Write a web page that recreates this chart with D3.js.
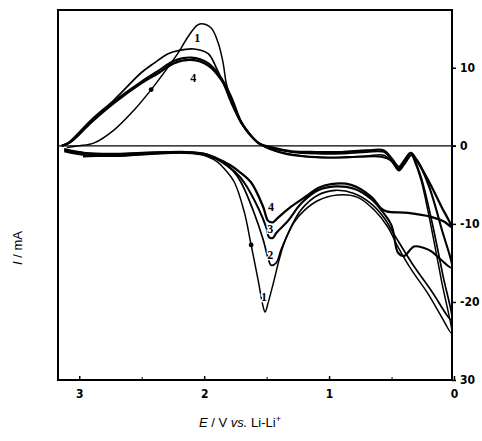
<!DOCTYPE html>
<html>
<head>
<meta charset="utf-8">
<script src="https://cdn.jsdelivr.net/npm/d3@7"></script>
<style>
  body { margin: 0; background: #fff; }
  svg { display: block; }
  .tick text { font-family: "Liberation Sans Narrow", "DejaVu Sans Condensed", "Liberation Sans", sans-serif; font-weight: bold; font-size: 12px; fill: #000; }
  .label { font-family: "Liberation Sans", Arial, sans-serif; font-size: 13px; fill: #000; }
  .curve-label { font-family: "Liberation Serif", "DejaVu Serif", serif; font-weight: bold; font-size: 12px; fill: #000; }
</style>
</head>
<body>
<div id="chart"></div>
<script>
var width = 482;
var height = 441;

// potential E (V vs Li/Li+) and current I (mA), one closed loop per cycle
var cycle1 = [
  [2.97,-1.4],[2.80,-1.3],[2.60,-1.2],[2.40,-1.0],[2.20,-0.9],[2.06,-1.0],[1.97,-1.4],[1.90,-2.0],[1.84,-2.9],
  [1.76,-4.6],[1.68,-8.4],[1.624,-12.7],[1.568,-17.2],[1.528,-20.6],[1.512,-21.3],[1.488,-20.1],[1.44,-17.2],
  [1.40,-14.6],[1.36,-12.5],[1.28,-9.8],[1.20,-8.3],[1.088,-7.0],[0.93,-6.3],[0.77,-6.6],[0.64,-8.2],[0.53,-10.4],
  [0.45,-12.9],[0.34,-15.9],[0.21,-18.9],[0.10,-21.9],[0.02,-24.0],
  [0.10,-17.3],[0.20,-9.0],[0.264,-4.4],[0.32,-1.8],[0.345,-1.0],[0.40,-2.2],[0.44,-3.2],[0.50,-2.0],[0.56,-1.2],
  [0.70,-1.3],[0.90,-1.5],[1.10,-1.5],[1.30,-1.1],[1.44,-0.6],[1.544,0.1],[1.60,0.8],[1.704,2.95],[1.784,5.9],
  [1.824,8.1],[1.848,10.6],[1.888,13.2],[1.944,15.1],[2.024,15.64],[2.06,15.4],[2.128,14.0],[2.208,11.9],
  [2.288,10.1],[2.424,7.2],[2.56,4.6],[2.72,2.05],[2.88,0.38],[3.0,0.0],[3.10,-0.2]
];
var cycle2 = [
  [3.12,-0.4],[2.95,-0.9],[2.70,-1.0],[2.40,-0.8],[2.15,-0.8],[2.00,-1.0],[1.92,-1.5],[1.84,-2.2],[1.77,-3.2],
  [1.704,-4.7],[1.60,-8.6],[1.528,-12.0],[1.488,-14.4],[1.464,-15.3],[1.424,-15.0],[1.384,-13.3],[1.328,-11.2],
  [1.224,-8.2],[1.088,-6.3],[0.95,-5.7],[0.80,-6.1],[0.664,-7.4],[0.56,-9.2],[0.47,-11.6],[0.33,-15.2],
  [0.18,-18.6],[0.02,-22.3],
  [0.09,-16.5],[0.18,-9.5],[0.26,-4.2],[0.32,-1.6],[0.35,-0.9],[0.40,-2.0],[0.44,-2.9],[0.50,-1.8],[0.56,-0.8],
  [0.70,-0.8],[0.90,-1.0],[1.10,-1.0],[1.30,-0.8],[1.46,-0.3],[1.56,0.3],[1.62,1.2],[1.704,2.95],[1.784,5.5],
  [1.848,8.1],[1.90,9.9],[1.968,11.8],[2.08,12.4],[2.208,12.2],[2.288,11.8],[2.40,10.6],[2.504,9.36],
  [2.72,5.9],[2.904,3.33],[3.088,0.38],[3.14,0.0]
];
var cycle3 = [
  [3.12,-0.7],[2.95,-1.2],[2.70,-1.3],[2.40,-1.0],[2.15,-0.9],[1.98,-1.2],[1.90,-1.7],[1.82,-2.5],[1.75,-3.4],
  [1.68,-4.7],[1.56,-8.2],[1.504,-10.4],[1.48,-11.7],[1.45,-11.8],[1.424,-11.2],[1.328,-9.6],[1.224,-7.4],
  [1.088,-5.7],[0.95,-5.2],[0.80,-5.5],[0.664,-6.8],[0.584,-8.2],[0.50,-10.2],[0.448,-13.7],[0.40,-14.1],
  [0.32,-12.9],[0.24,-13.1],[0.184,-13.5],[0.104,-14.6],[0.02,-15.6],
  [0.10,-10.6],[0.20,-5.2],[0.29,-2.0],[0.34,-1.2],[0.40,-2.4],[0.44,-3.1],[0.50,-1.9],[0.58,-1.4],[0.75,-1.4],
  [0.95,-1.5],[1.15,-1.4],[1.35,-1.0],[1.47,-0.4],[1.56,0.3],[1.62,1.2],[1.704,3.1],[1.784,6.3],[1.864,8.7],
  [1.968,10.6],[2.104,11.3],[2.24,10.9],[2.368,9.6],[2.504,8.2],[2.72,5.7],[2.904,3.1],[3.07,0.5],[3.14,0.0]
];
var cycle4 = [
  [3.12,-0.5],[2.95,-1.0],[2.70,-1.1],[2.40,-0.9],[2.15,-0.8],[1.98,-1.1],[1.90,-1.6],[1.80,-2.4],[1.72,-3.3],
  [1.624,-4.7],[1.528,-7.8],[1.488,-9.6],[1.45,-9.8],[1.408,-9.2],[1.304,-7.8],[1.168,-6.3],[1.088,-5.4],
  [0.984,-4.9],[0.824,-5.0],[0.664,-6.5],[0.584,-8.0],[0.54,-8.4],[0.368,-8.6],[0.184,-9.1],[0.08,-9.7],
  [0.02,-10.4],
  [0.10,-7.8],[0.20,-4.6],[0.30,-1.8],[0.345,-0.9],[0.40,-1.9],[0.44,-2.7],[0.50,-1.6],[0.56,-0.6],[0.70,-0.6],
  [0.90,-0.8],[1.10,-0.8],[1.30,-0.7],[1.46,-0.2],[1.56,0.3],[1.62,1.2],[1.704,3.0],[1.784,6.1],[1.864,8.5],
  [1.968,10.3],[2.104,11.0],[2.24,10.6],[2.368,9.3],[2.504,8.0],[2.72,5.5],[2.904,3.0],[3.07,0.5],[3.14,0.0]
];

var cycles = [cycle1, cycle2, cycle3, cycle4];
var cycleWidths = [1.5, 1.7, 2.1, 2.3];

// cycle number labels [E, I, text]
var curveLabels = [
  [2.056, 13.85, "1"], [2.088, 8.7, "4"],
  [1.464, -7.8, "4"], [1.47, -10.6, "3"], [1.47, -13.9, "2"], [1.52, -19.3, "1"]
];
// small dots on cycle 1
var markers = [[2.424, 7.2], [1.624, -12.7]];

var xTicks = [3, 2, 1, 0];
var xMinorTicks = [2.5, 1.5, 0.5];
var yTicks = [10, 0, -10, -20, -30];
var yTickLabels = ["10", "0", "-10", "-20", "30"];

var mLeft = 58, mRight = 452, mTop = 10, mBottom = 380;

var xscale = d3.scaleLinear().domain([3.17, 0]).range([58, 454]);
var yscale = d3.scaleLinear().domain([17.4, -30]).range([mTop, mBottom]);

var svg = d3.select("#chart").append("svg")
  .attr("width", width)
  .attr("height", height);

// zero line
svg.append("line")
  .attr("x1", mLeft).attr("x2", mRight + 4)
  .attr("y1", yscale(0)).attr("y2", yscale(0))
  .attr("stroke", "#000").attr("stroke-width", 1.2);

var line = d3.line()
  .x(function (d) { return xscale(d[0]); })
  .y(function (d) { return yscale(d[1]); })
  .curve(d3.curveCatmullRom.alpha(0.5));

for (var i = cycles.length - 1; i >= 0; i--) {
  svg.append("path")
    .datum(cycles[i])
    .attr("fill", "none")
    .attr("stroke", "#000")
    .attr("stroke-width", cycleWidths[i])
    .attr("stroke-linejoin", "round")
    .attr("d", line);
}

svg.selectAll(".marker")
  .data(markers)
  .enter().append("circle")
  .attr("class", "marker")
  .attr("cx", function (d) { return xscale(d[0]); })
  .attr("cy", function (d) { return yscale(d[1]); })
  .attr("r", 2.4)
  .attr("fill", "#000");

svg.selectAll(".curve-label")
  .data(curveLabels)
  .enter().append("text")
  .attr("class", "curve-label")
  .attr("x", function (d) { return xscale(d[0]); })
  .attr("y", function (d) { return yscale(d[1]); })
  .attr("text-anchor", "middle")
  .attr("dy", "0.35em")
  .attr("stroke", "#fff").attr("stroke-width", 2.5).attr("paint-order", "stroke")
  .text(function (d) { return d[2]; });

// frame
svg.append("rect")
  .attr("x", mLeft).attr("y", mTop)
  .attr("width", mRight - mLeft).attr("height", mBottom - mTop)
  .attr("fill", "none").attr("stroke", "#000").attr("stroke-width", 2);

// x axis (ticks point inward)
var xaxis = d3.axisBottom(xscale)
  .tickValues(xTicks)
  .tickFormat(d3.format("d"))
  .tickSizeInner(-4)
  .tickSizeOuter(0)
  .tickPadding(9);

svg.append("g")
  .attr("transform", "translate(0," + mBottom + ")")
  .attr("class", "xaxis")
  .call(xaxis)
  .call(function (g) { g.select(".domain").remove(); });

svg.append("g")
  .attr("transform", "translate(0," + mBottom + ")")
  .call(d3.axisBottom(xscale).tickValues(xMinorTicks).tickFormat("").tickSizeInner(-3).tickSizeOuter(0))
  .call(function (g) { g.select(".domain").remove(); });

svg.selectAll(".xaxis line").attr("stroke-width", 1.5);

// y axis on the right
var yaxis = d3.axisRight(yscale)
  .tickValues(yTicks)
  .tickFormat(function (d, i) { return yTickLabels[i]; })
  .tickSizeInner(4)
  .tickSizeOuter(0)
  .tickPadding(4);

svg.append("g")
  .attr("transform", "translate(" + mRight + ",0)")
  .attr("class", "yaxis")
  .call(yaxis)
  .call(function (g) { g.select(".domain").remove(); });

svg.selectAll(".yaxis line").attr("stroke-width", 1.5);

// axis labels
var ylab = svg.append("text")
  .attr("class", "label")
  .attr("transform", "translate(22,248) rotate(-90)")
  .attr("text-anchor", "middle");
ylab.append("tspan").attr("font-style", "italic").text("I");
ylab.append("tspan").text(" / mA");

var xlab = svg.append("text")
  .attr("class", "label")
  .attr("x", 240).attr("y", 427)
  .attr("text-anchor", "middle");
xlab.append("tspan").attr("font-style", "italic").text("E");
xlab.append("tspan").text(" / V ");
xlab.append("tspan").attr("font-style", "italic").text("vs.");
xlab.append("tspan").text(" Li-Li");
xlab.append("tspan").attr("font-size", "9px").attr("dy", "-5").text("+");
</script>
</body>
</html>
